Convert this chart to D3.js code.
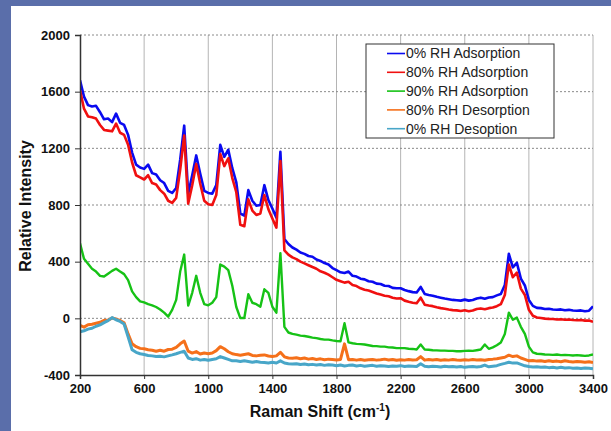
<!DOCTYPE html>
<html lang="en">
<head>
    <meta charset="UTF-8">
    <title>Raman spectra vs RH</title>
    <style>
        body {
            margin: 0;
            padding: 0;
            background: #5a6eaa;
        }
        svg {
            display: block;
        }
        text {
            font-family: Arial, 'Liberation Sans', sans-serif;
            fill: #111;
        }
        .tick text {
            font-size: 13px;
            font-weight: bold;
        }
        .axis-title {
            font-size: 16px;
            font-weight: bold;
        }
        .legend text {
            font-size: 14px;
            fill: #222;
        }
        .series {
            fill: none;
            stroke-linejoin: round;
        }
    </style>
</head>
<body>
    <script src="https://d3js.org/d3.v7.min.js"></script>
    <script>
        // Raman shift (cm-1) sample positions
        const shift = [200, 225, 250, 275, 300, 325, 350, 375, 400, 425, 450, 475, 500, 525, 550, 575, 600, 625, 650, 675,
            700, 725, 750, 775, 800, 825, 850, 875, 900, 925, 950, 975, 1000, 1025, 1050, 1075, 1100, 1125, 1150, 1175,
            1200, 1225, 1250, 1275, 1300, 1325, 1350, 1375, 1400, 1425, 1450, 1475, 1500, 1525, 1550, 1575, 1600, 1625, 1650, 1675,
            1700, 1725, 1750, 1775, 1800, 1825, 1850, 1875, 1900, 1925, 1950, 1975, 2000, 2025, 2050, 2075, 2100, 2125, 2150, 2175,
            2200, 2225, 2250, 2275, 2300, 2325, 2350, 2375, 2400, 2425, 2450, 2475, 2500, 2525, 2550, 2575, 2600, 2625, 2650, 2675,
            2700, 2725, 2750, 2775, 2800, 2825, 2850, 2875, 2900, 2925, 2950, 2975, 3000, 3025, 3050, 3075, 3100, 3125, 3150, 3175,
            3200, 3225, 3250, 3275, 3300, 3325, 3350, 3375, 3400];

        const rh0Ads = [1680, 1565, 1505, 1495, 1500, 1455, 1405, 1410, 1385, 1445, 1380, 1365, 1295, 1170, 1085, 1065, 1055, 1085, 1025, 1015,
            975, 955, 900, 885, 920, 1120, 1360, 880, 1010, 1150, 1020, 900, 885, 880, 940, 1225, 1140, 1190, 1060, 960,
            740, 725, 905, 830, 795, 800, 940, 835, 775, 710, 1175, 560, 525,
            500, 485, 465, 455, 440, 435, 415, 405, 390, 380, 355, 340, 325, 320, 330, 300, 295, 280, 275, 262,
            258, 245, 242, 230, 228, 215, 212, 212, 200, 192, 185, 182, 222, 172, 165, 160, 152, 146, 140, 135,
            130, 128, 125, 132, 125, 130, 140, 146, 138, 147, 150, 162, 172, 235, 455, 360, 392, 280, 232, 130,
            88, 74, 72, 66, 67, 62, 61, 63, 57, 60, 55, 53, 56, 50, 54, 85];

        const rh80Ads = [1610, 1480, 1425, 1420, 1410, 1365, 1330, 1325, 1320, 1375, 1310, 1295, 1225, 1100, 1010, 995, 980, 1010, 955, 945,
            905, 880, 830, 815, 850, 1050, 1290, 810, 940, 1090, 950, 830, 805, 800, 870, 1160, 1075, 1130, 990, 890,
            660, 650, 840, 760, 730, 740, 870, 770, 705, 640, 1110, 480, 450,
            430, 418, 400, 388, 375, 362, 350, 332, 322, 308, 290, 272, 262, 252, 258, 235, 228, 212, 202, 196,
            186, 176, 168, 160, 156, 146, 140, 142, 125, 117, 110, 106, 146, 96, 90, 86, 78, 72, 68, 62,
            58, 56, 52, 57, 50, 55, 66, 70, 64, 72, 76, 86, 100, 165, 380, 290, 322, 210, 165, 60,
            18, 6, 2, -2, -4, -5, -8, -6, -10, -8, -12, -13, -12, -16, -15, -25];

        const rh90Ads = [530, 420, 385, 350, 330, 300, 295, 315, 335, 350, 330, 312, 270, 190, 150, 120, 112, 100, 92, 80,
            62, 40, 12, 60, 130, 330, 450, 90, 180, 300, 180, 100, 92, 110, 150, 380, 365, 340, 230, 80,
            2, 2, 170, 110, 100, 82, 205, 180, 82, 40, 460, -60, -100,
            -110, -115, -122, -125, -130, -136, -140, -146, -150, -150, -156, -160, -162, -35, -170, -176, -180, -182, -185, -190,
            -195, -196, -200, -200, -205, -206, -210, -210, -210, -215, -216, -220, -185, -220, -222, -225, -226, -228, -228, -230,
            -230, -232, -232, -230, -228, -230, -225, -220, -185, -215, -205, -190, -170, -110, 40, -10, 5, -60, -110, -200,
            -240, -250, -252, -255, -256, -258, -255, -260, -258, -260, -262, -260, -262, -265, -262, -255];

        const rh80Des = [-50, -62, -45, -42, -35, -28, -15, -12, 2, -5, -15, -32, -110, -180, -200, -212, -215, -222, -225, -232,
            -225, -232, -220, -218, -205, -180, -160, -232, -245, -235, -252, -245, -250, -245, -228, -200, -215, -236, -250, -256,
            -260, -255, -250, -262, -265, -260, -258, -266, -270, -265, -240, -272, -280,
            -282, -278, -285, -280, -288, -284, -290, -286, -292, -288, -290, -294, -290, -180, -292, -290, -295, -290, -296, -292,
            -290, -295, -292, -288, -294, -290, -296, -292, -295, -290, -294, -292, -270, -295, -290, -294, -290, -296, -292, -295,
            -290, -294, -296, -292, -295, -290, -294, -292, -296, -290, -288, -285, -280, -275, -260, -270, -265, -280, -290, -300,
            -298, -302, -300, -305, -300, -304, -302, -306, -300, -305, -308, -304, -306, -310, -306, -312];

        const rh0Des = [-95, -88, -76, -70, -56, -46, -30, -16, 5, -10, -22, -40, -130, -222, -240, -250, -255, -262, -265, -270,
            -268, -272, -265, -258, -250, -240, -232, -280, -290, -285, -295, -290, -296, -290, -285, -270, -280, -290, -300, -300,
            -305, -300, -305, -310, -305, -310, -312, -315, -310, -315, -300, -315, -320,
            -322, -320, -326, -322, -328, -325, -330, -326, -332, -328, -330, -334, -330, -336, -332, -330, -336, -332, -338, -334,
            -332, -338, -334, -336, -340, -336, -338, -334, -340, -336, -338, -340, -320, -338, -342, -338, -340, -344, -338, -342,
            -340, -344, -340, -346, -342, -340, -344, -340, -330, -342, -338, -334, -325, -318, -310, -316, -315, -325, -335, -340,
            -344, -342, -346, -344, -348, -346, -350, -346, -350, -348, -352, -350, -354, -350, -352, -356];

        const seriesNames = ['0% RH Adsorption', '80% RH Adsorption', '90% RH Adsorption', '80% RH Desorption', '0% RH Desoption'];
        const seriesColors = ['#0a0af0', '#f01010', '#16c216', '#f5701a', '#48a6c8'];
        const seriesWidths = [2.6, 2.6, 2.4, 3, 3];
        const xTicks = [200, 600, 1000, 1400, 1800, 2200, 2600, 3000, 3400];
        const yTicks = [-400, 0, 400, 800, 1200, 1600, 2000];

        const width = 611;
        const height = 431;
        const margin = {top: 35, right: 18, bottom: 56, left: 80};

        const svg = d3.select('body').append('svg')
            .attr('width', width)
            .attr('height', height);

        // white panel inside the blue frame
        svg.append('rect')
            .attr('x', 11)
            .attr('y', 6)
            .attr('width', width - 11)
            .attr('height', height - 6)
            .attr('fill', '#fff');

        const x = d3.scaleLinear().domain([200, 3400]).range([margin.left, width - margin.right]);
        const y = d3.scaleLinear().domain([-400, 2000]).range([height - margin.bottom, margin.top]);

        // grid: solid verticals, dotted horizontals
        svg.append('g')
            .selectAll('line')
            .data(xTicks.slice(1))
            .enter().append('line')
            .attr('x1', d => x(d)).attr('x2', d => x(d))
            .attr('y1', y(2000)).attr('y2', y(-400))
            .attr('stroke', '#b4b4b4')
            .attr('stroke-width', 1);

        svg.append('g')
            .selectAll('line')
            .data(yTicks.slice(1))
            .enter().append('line')
            .attr('x1', x(200)).attr('x2', x(3400))
            .attr('y1', d => y(d)).attr('y2', d => y(d))
            .attr('stroke', '#8a8a8a')
            .attr('stroke-width', 1)
            .attr('stroke-dasharray', '2,2');

        svg.append('defs').append('clipPath')
            .attr('id', 'plot-clip')
            .append('rect')
            .attr('x', x(200))
            .attr('y', y(2000))
            .attr('width', x(3400) - x(200))
            .attr('height', y(-400) - y(2000));

        const allSeries = [rh0Ads, rh80Ads, rh90Ads, rh80Des, rh0Des];

        const line = d3.line()
            .x((d, i) => x(shift[i]))
            .y(d => y(d));

        svg.append('g')
            .attr('clip-path', 'url(#plot-clip)')
            .selectAll('path')
            .data(allSeries)
            .enter().append('path')
            .attr('class', 'series')
            .attr('stroke', (d, i) => seriesColors[i])
            .attr('stroke-width', (d, i) => seriesWidths[i])
            .attr('d', line);

        // axes
        const xAxis = svg.append('g')
            .attr('transform', `translate(0,${y(-400)})`)
            .call(d3.axisBottom(x).tickValues(xTicks).tickSize(4).tickPadding(5).tickFormat(d => String(d)));

        const yAxis = svg.append('g')
            .attr('transform', `translate(${x(200)},0)`)
            .call(d3.axisLeft(y).tickValues(yTicks).tickSize(5).tickPadding(5).tickFormat(d => String(d)));

        [xAxis, yAxis].forEach(a => {
            a.select('.domain').attr('stroke', '#333').attr('stroke-width', 1.5);
            a.selectAll('.tick line').attr('stroke', '#333');
            a.selectAll('.tick text').attr('fill', '#111');
        });

        // axis titles
        svg.append('text')
            .attr('class', 'axis-title')
            .attr('transform', 'translate(31,206) rotate(-90)')
            .attr('text-anchor', 'middle')
            .text('Relative Intensity');

        const xTitle = svg.append('text')
            .attr('class', 'axis-title')
            .attr('x', 320)
            .attr('y', 417)
            .attr('text-anchor', 'middle');
        xTitle.append('tspan').text('Raman Shift (cm');
        xTitle.append('tspan').attr('font-size', '10px').attr('dy', -6).text('-1');
        xTitle.append('tspan').attr('dy', 6).text(')');

        // legend
        const legend = svg.append('g').attr('class', 'legend');
        legend.append('rect')
            .attr('x', 366)
            .attr('y', 44)
            .attr('width', 188)
            .attr('height', 94)
            .attr('fill', '#fff')
            .attr('stroke', '#333')
            .attr('stroke-width', 1);

        const item = legend.selectAll('.item')
            .data(seriesNames)
            .enter().append('g')
            .attr('class', 'item')
            .attr('transform', (d, i) => `translate(0,${53.5 + i * 18.8})`);

        item.append('line')
            .attr('x1', 387).attr('x2', 405)
            .attr('stroke', (d, i) => seriesColors[i])
            .attr('stroke-width', 1.6);

        item.append('text')
            .attr('x', 406)
            .attr('dy', '0.35em')
            .text(d => d);
    </script>
</body>
</html>
